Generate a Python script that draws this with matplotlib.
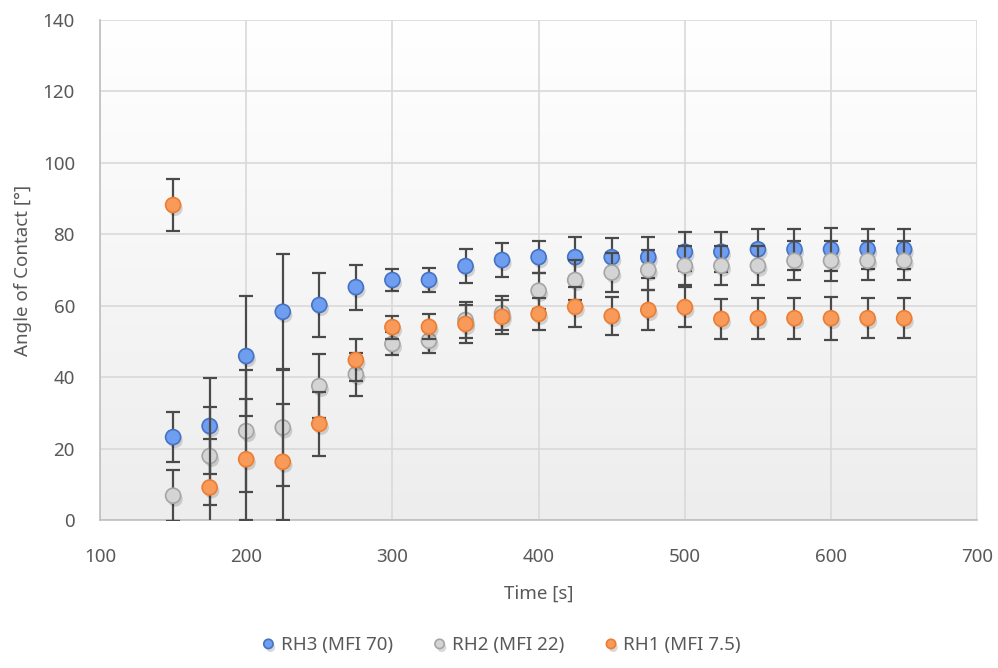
import numpy as np
import matplotlib
matplotlib.use("Agg")
import matplotlib.pyplot as plt
import matplotlib.patheffects as pe
from matplotlib.colors import LinearSegmentedColormap

# time points [s]
time = [150, 175, 200, 225, 250, 275, 300, 325, 350, 375, 400,
        425, 450, 475, 500, 525, 550, 575, 600, 625, 650]

# contact angles [deg]
rh3 = [23.2, 26.3, 45.9, 58.3, 60.2, 65.2, 67.2, 67.2, 71.1, 72.8, 73.6,
       73.6, 73.6, 73.6, 75.1, 75.1, 75.8, 75.8, 75.8, 75.8, 75.8]
rh2 = [6.8, 17.9, 24.9, 25.9, 37.5, 40.8, 49.3, 50.2, 56.0, 57.9, 64.2,
       67.2, 69.3, 70.0, 71.2, 71.2, 71.2, 72.6, 72.6, 72.6, 72.6]
rh1 = [88.2, 9.1, 17.0, 16.3, 26.9, 44.8, 54.0, 54.1, 54.9, 56.9, 57.7,
       59.7, 57.1, 58.8, 59.6, 56.3, 56.5, 56.5, 56.5, 56.5, 56.5]

# error bars (+/-)
err3 = [7.1, 13.4, 16.9, 16.2, 9.0, 6.3, 3.1, 3.4, 4.7, 4.7, 4.5,
        5.6, 5.3, 5.7, 5.5, 5.6, 5.7, 5.7, 6.0, 5.6, 5.6]
err2 = [7.2, 13.6, 17.0, 16.3, 9.0, 6.0, 3.2, 3.5, 5.0, 4.8, 5.0,
        5.5, 5.5, 5.6, 5.5, 5.5, 5.5, 5.5, 5.6, 5.5, 5.5]
err1 = [7.2, 13.5, 17.0, 16.3, 9.0, 6.0, 3.2, 3.5, 5.3, 4.8, 4.5,
        5.6, 5.4, 5.7, 5.7, 5.7, 5.7, 5.7, 6.0, 5.6, 5.6]

labels = ["RH3 (MFI 70)", "RH2 (MFI 22)", "RH1 (MFI 7.5)"]
fills = ["#6f9ef0", "#d4d4d4", "#f79a5a"]
edges = ["#4472c4", "#a5a5a5", "#ed7d31"]

plt.rcParams['font.family'] = ['Noto Sans', 'DejaVu Sans']
txt = "#595959"
grid = "#d9d9d9"

fig = plt.figure(figsize=(9.98, 6.68), dpi=100)
ax = fig.add_axes([0.1002, 0.2216, 0.879, 0.7484])

# light vertical gradient in the plot area
grad = np.linspace(0, 1, 256).reshape(-1, 1)
cmap = LinearSegmentedColormap.from_list("bg", ["#ffffff", "#ededed"])
ax.imshow(grad, extent=[100, 700, 0, 140], aspect="auto", cmap=cmap,
          origin="upper", zorder=0)

shadow = [pe.SimplePatchShadow(offset=(1.5, -2.5), shadow_rgbFace="#000000",
                               alpha=0.15), pe.Normal()]

series = [(rh3, err3), (rh2, err2), (rh1, err1)]
for i, (vals, err) in enumerate(series):
    ax.errorbar(time, vals, yerr=err, fmt="none", ecolor="#4a4a4a",
                elinewidth=1.6, capsize=4.8, capthick=1.6, zorder=3 + i)
    ln, = ax.plot(time, vals, "o", ms=10.8, mfc=fills[i], mec=edges[i],
                  mew=1.2, label=labels[i], zorder=3.5 + i)
    ln.set_path_effects(shadow)

ax.set_xlim(100, 700)
ax.set_ylim(0, 140)
ax.set_xticks(range(100, 701, 100))
ax.set_yticks(range(0, 141, 20))
ax.grid(True, color=grid, lw=1.2, zorder=1)
ax.set_axisbelow(True)
for s in ["top", "right"]:
    ax.spines[s].set_visible(False)
for s in ["left", "bottom"]:
    ax.spines[s].set_color("#bfbfbf")
    ax.spines[s].set_linewidth(1.2)
ax.tick_params(length=0, labelsize=13.5, labelcolor=txt)
ax.tick_params(axis="x", pad=20)
ax.tick_params(axis="y", pad=18)

ax.set_xlabel("Time [s]", fontsize=13.5, color=txt, labelpad=14)
ax.set_ylabel("Angle of Contact [°]", fontsize=13.5, color=txt, labelpad=8)

leg = fig.legend(loc="lower center", bbox_to_anchor=(0.5, -0.005), ncol=3,
                 frameon=False, fontsize=13.5, handletextpad=0.05,
                 columnspacing=1.9, markerscale=0.62, handlelength=1.2)
for t in leg.get_texts():
    t.set_color(txt)

fig.savefig("out.png", dpi=100)
